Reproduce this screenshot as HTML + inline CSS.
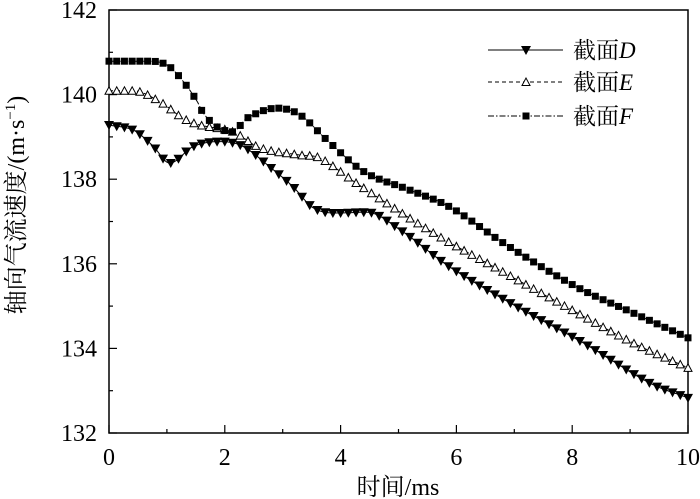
<!DOCTYPE html>
<html><head><meta charset="utf-8"><style>
html,body{margin:0;padding:0;background:#fff;}
svg{display:block;font-family:"Liberation Serif","Noto Serif CJK SC",serif;}
</style></head><body>
<svg id="s" width="700" height="499" xmlns="http://www.w3.org/2000/svg"></svg>
<script>
const s=document.getElementById('s');
const X0=109,X1=688,Y0=433,Y1=10;
const fx=t=>X0+(X1-X0)*t/10, fy=v=>Y0-(Y0-Y1)*(v-132)/10;
let h='';
h+=`<rect x="${X0}" y="${Y1}" width="${X1-X0}" height="${Y0-Y1}" fill="none" stroke="#000" stroke-width="1.5"/>`;
for(let i=0;i<=10;i++){const x=fx(i);const L=i%2?4:8;
 h+=`<line x1="${x}" y1="${Y0}" x2="${x}" y2="${Y0-L}" stroke="#000" stroke-width="1.2"/>`;
 if(i%2==0)h+=`<text x="${x}" y="465" font-size="24" text-anchor="middle">${i}</text>`;}
for(let v=132;v<=142;v++){const y=fy(v);const L=v%2?4:8;
 h+=`<line x1="${X0}" y1="${y}" x2="${X0+L}" y2="${y}" stroke="#000" stroke-width="1.2"/>`;
 if(v%2==0)h+=`<text x="97" y="${y+8}" font-size="24" text-anchor="end">${v}</text>`;}
h+=`<text x="398" y="495" font-size="24" text-anchor="middle">时间/ms</text>`;
h+=`<text transform="translate(24,205) rotate(-90)" font-size="24" text-anchor="middle">轴向气流速度/(m·s<tspan dy="-9" font-size="15">−1</tspan><tspan dy="9">)</tspan></text>`;
const D=[[0,139.28],[0.42,139.16],[0.75,138.8],[1.05,138.38],[1.45,138.77],[1.92,138.89],[2.32,138.77],[2.84,138.22],[3.18,137.82],[3.53,137.32],[3.93,137.2],[4.45,137.22],[5.03,136.8],[5.89,135.92],[7.05,134.98],[8.19,134.13],[9.34,133.18],[10,132.83]];
const E=[[0,140.09],[0.42,140.09],[0.88,139.83],[1.28,139.44],[1.57,139.28],[2.14,139.12],[2.61,138.74],[3.3,138.57],[3.64,138.5],[4.3,137.88],[5.6,136.73],[6.75,135.85],[7.9,134.98],[9.05,134.13],[10,133.54]];
const F=[[0,140.79],[0.71,140.79],[1.0,140.7],[1.23,140.4],[1.51,139.87],[1.63,139.56],[1.86,139.24],[2.14,139.12],[2.38,139.44],[2.9,139.68],[3.3,139.52],[3.76,138.93],[4.4,138.18],[5.2,137.74],[5.89,137.34],[6.87,136.44],[8.08,135.45],[9.05,134.84],[10,134.25]];
function slope(P,i){const n=P.length;if(i==0)return (P[1][1]-P[0][1])/(P[1][0]-P[0][0]);if(i==n-1)return (P[n-1][1]-P[n-2][1])/(P[n-1][0]-P[n-2][0]);
 const a=(P[i][1]-P[i-1][1])/(P[i][0]-P[i-1][0]),b=(P[i+1][1]-P[i][1])/(P[i+1][0]-P[i][0]);if(a*b<=0)return 0;return (P[i+1][1]-P[i-1][1])/(P[i+1][0]-P[i-1][0]);}
function interp(P,t){for(let i=1;i<P.length;i++)if(t<=P[i][0]+1e-9){const a=P[i-1],b=P[i];const hh=b[0]-a[0];const u=(t-a[0])/hh;
 const m0=slope(P,i-1)*hh,m1=slope(P,i)*hh;const u2=u*u,u3=u2*u;
 return (2*u3-3*u2+1)*a[1]+(u3-2*u2+u)*m0+(-2*u3+3*u2)*b[1]+(u3-u2)*m1;}return P[P.length-1][1];}
const N=75;
function series(P,dash,mk){let line=[];for(let i=0;i<=300;i++){const t=10*i/300;line.push([fx(t),fy(interp(P,t))]);}
 h+=`<polyline points="${line.map(p=>p[0].toFixed(1)+','+p[1].toFixed(1)).join(' ')}" fill="none" stroke="#000" stroke-width="1" ${dash?`stroke-dasharray="${dash}"`:''}/>`;
 for(let i=0;i<=N;i++){const t=10*i/N;h+=mk(fx(t),fy(interp(P,t)));}}
const tri=(x,y)=>`<polygon points="${x-5},${y-4} ${x+5},${y-4} ${x},${y+5}" fill="#000"/>`;
const tru=(x,y)=>`<polygon points="${x-4},${y+3.5} ${x+4},${y+3.5} ${x},${y-4}" fill="#fff" stroke="#000" stroke-width="1"/>`;
const sq=(x,y)=>`<rect x="${x-3.5}" y="${y-3.5}" width="7" height="7" fill="#000"/>`;
series(D,'',tri);series(E,'4,3',tru);series(F,'6,2,1.5,2',sq);
const leg=[[50,'',tri,'D'],[82,'4,3',tru,'E'],[116,'6,2,1.5,2',sq,'F']];
leg.forEach(l=>{h+=`<line x1="488" y1="${l[0]}" x2="563" y2="${l[0]}" stroke="#000" stroke-width="1" ${l[1]?`stroke-dasharray="${l[1]}"`:''}/>`;h+=l[2](526,l[0]);
 h+=`<text x="573" y="${l[0]+8}" font-size="23">截面<tspan font-style="italic">${l[3]}</tspan></text>`;});
s.innerHTML=h;
</script>
</body></html>
